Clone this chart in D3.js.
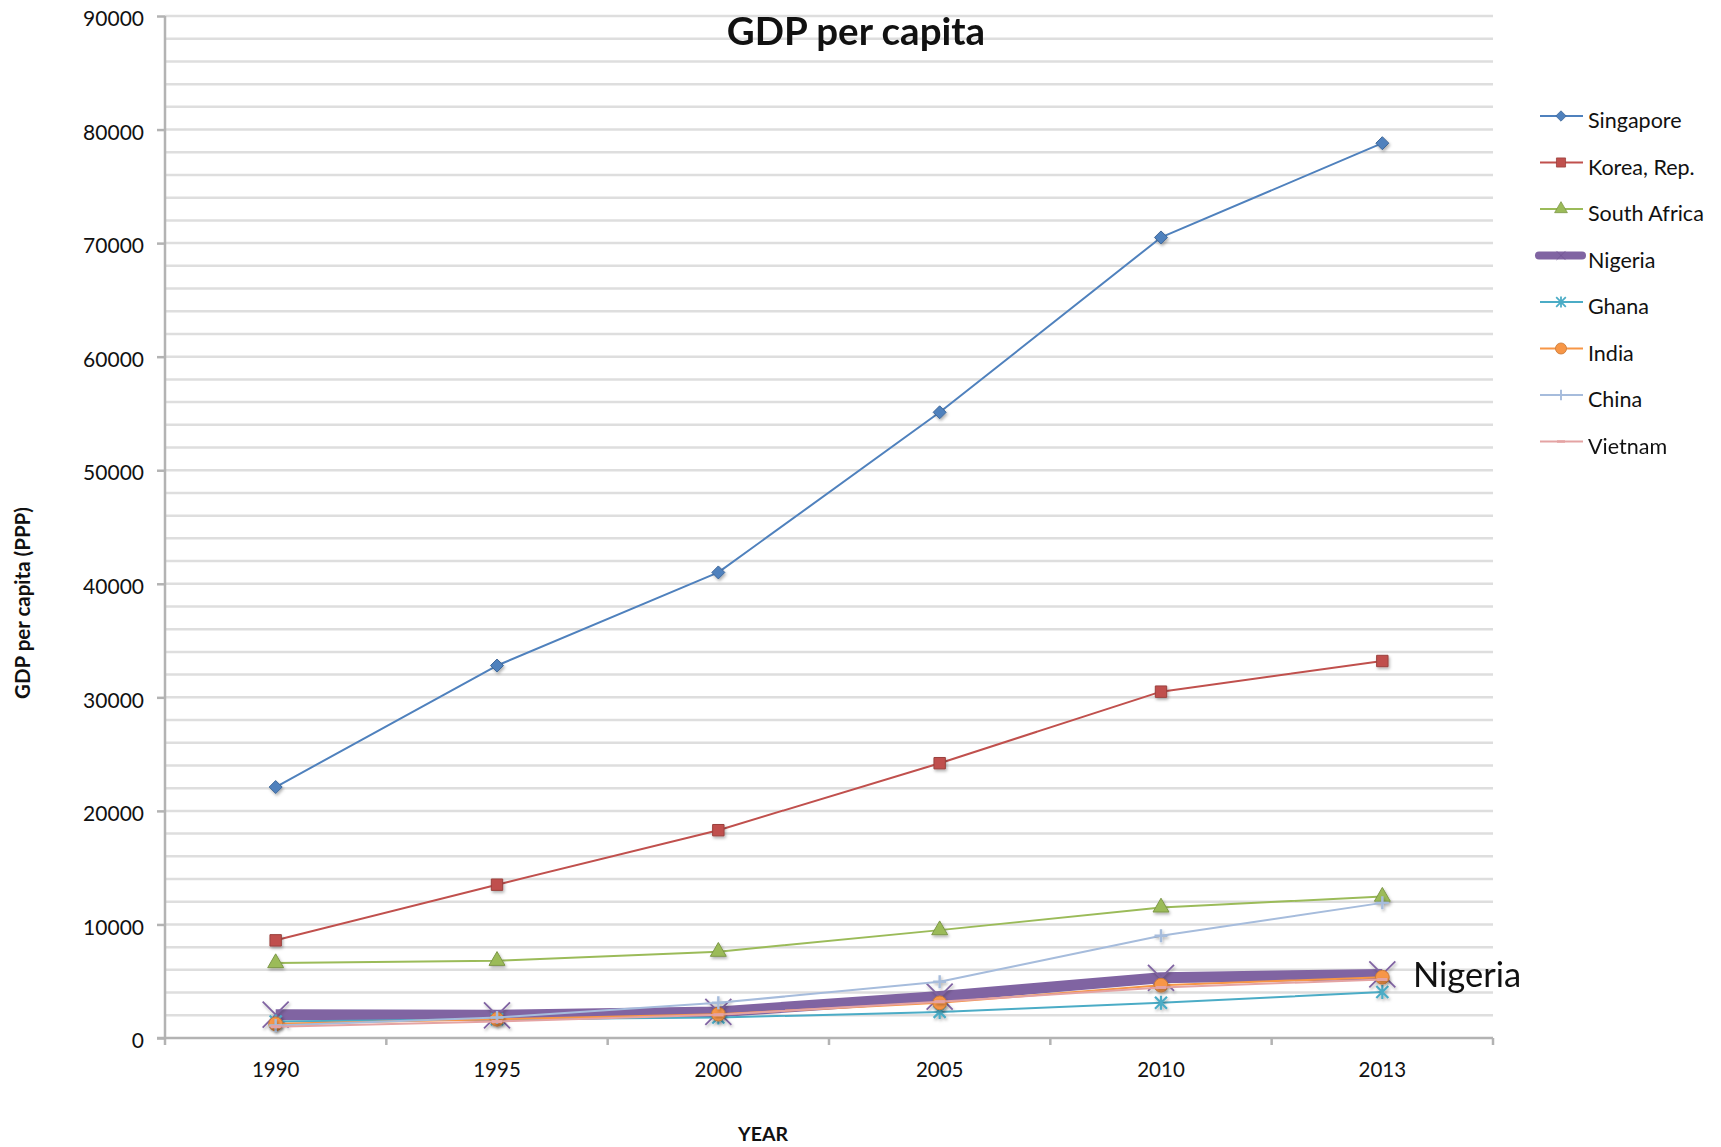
<!DOCTYPE html>
<html>
<head>
<meta charset="utf-8">
<script src="https://cdn.jsdelivr.net/npm/d3@7/dist/d3.min.js"></script>
<style>
  html, body { margin: 0; padding: 0; background: #fff; }
  svg { display: block; }
  text { font-family: Lato, "Open Sans", sans-serif; fill: #111; }
</style>
</head>
<body>
<svg id="chart" width="1721" height="1147"></svg>
<script>
// GDP per capita (PPP), selected countries
const years = ["1990", "1995", "2000", "2005", "2010", "2013"];
const singapore   = [22100, 32800, 41000, 55100, 70500, 78800];
const korea       = [8600, 13500, 18300, 24200, 30500, 33200];
const southAfrica = [6600, 6800, 7600, 9500, 11500, 12450];
const nigeria     = [2050, 2000, 2300, 3650, 5300, 5600];
const ghana       = [1450, 1650, 1800, 2300, 3100, 4050];
const india       = [1250, 1650, 2100, 3100, 4650, 5350];
const china       = [1100, 1800, 3100, 4950, 9000, 11900];
const vietnam     = [1000, 1450, 2050, 3200, 4450, 5150];
const seriesNames = ["Singapore", "Korea, Rep.", "South Africa", "Nigeria", "Ghana", "India", "China", "Vietnam"];
const yTicks = [0, 10000, 20000, 30000, 40000, 50000, 60000, 70000, 80000, 90000];

const seriesValues = [singapore, korea, southAfrica, nigeria, ghana, india, china, vietnam];

const styles = [
  { color: "#4F81BD", width: 2,  marker: "diamond" },
  { color: "#C0504D", width: 2,  marker: "square" },
  { color: "#9BBB59", width: 2,  marker: "triangle" },
  { color: "#8064A2", width: 11, marker: "x" },
  { color: "#4BACC6", width: 2,  marker: "star" },
  { color: "#F79646", width: 2,  marker: "circle" },
  { color: "#A6BCDC", width: 2,  marker: "plus" },
  { color: "#E4A3A3", width: 2,  marker: "dash" }
];

const svg = d3.select("#chart");

const plot = { left: 165, right: 1493, top: 16, bottom: 1038 };

const x = d3.scaleBand().domain(years).range([plot.left, plot.right]).padding(0);
const cx = d => x(d) + x.bandwidth() / 2;
const y = d3.scaleLinear().domain([0, 90000]).range([plot.bottom, plot.top]);

// soft marker shadow
const defs = svg.append("defs");
const f = defs.append("filter").attr("id", "shadow")
  .attr("x", "-50%").attr("y", "-50%").attr("width", "200%").attr("height", "200%");
f.append("feDropShadow").attr("dx", 1.2).attr("dy", 2).attr("stdDeviation", 1.4)
  .attr("flood-color", "#000").attr("flood-opacity", 0.3);

// horizontal gridlines every 2000
const gridVals = d3.range(2000, 90001, 2000);
svg.append("g").selectAll("line").data(gridVals).join("line")
  .attr("x1", plot.left).attr("x2", plot.right)
  .attr("y1", d => y(d)).attr("y2", d => y(d))
  .attr("stroke", "#dedede").attr("stroke-width", 2.5);

// y axis
const yAxis = d3.axisLeft(y).tickValues(yTicks).tickSize(8).tickPadding(13).tickFormat(d3.format("d"));
const gy = svg.append("g").attr("transform", `translate(${plot.left},0)`).call(yAxis);
gy.select(".domain").attr("stroke", "#b3b3b3").attr("stroke-width", 2.5).attr("d", `M0,${plot.top}V${plot.bottom}`);
gy.selectAll(".tick line").attr("stroke", "#b3b3b3").attr("stroke-width", 2.5);
gy.selectAll(".tick text").attr("y", 3).style("font-size", "21px").style("font-family", "Lato, sans-serif").attr("fill", "#111");

// x axis with ticks at category boundaries
const gx = svg.append("g").attr("transform", `translate(0,${plot.bottom})`);
gx.append("line").attr("x1", plot.left - 8).attr("x2", plot.right)
  .attr("stroke", "#b3b3b3").attr("stroke-width", 2.5);
const bounds = years.map(d => x(d)).concat([plot.right]);
gx.selectAll("line.tk").data(bounds).join("line").attr("class", "tk")
  .attr("x1", d => d).attr("x2", d => d).attr("y1", 0).attr("y2", 7)
  .attr("stroke", "#b3b3b3").attr("stroke-width", 2.5);
gx.selectAll("text").data(years).join("text")
  .attr("x", d => cx(d)).attr("y", 39).attr("text-anchor", "middle")
  .style("font-size", "20.5px").text(d => d);

// marker shapes
function markerPath(type) {
  switch (type) {
    case "diamond": return "M0,-6.5L6.5,0L0,6.5L-6.5,0Z";
    case "square": return d3.symbol(d3.symbolSquare, 130)();
    case "triangle": return d3.symbol(d3.symbolTriangle, 110)();
    case "circle": return d3.symbol(d3.symbolCircle, 150)();
    default: return null;
  }
}

function drawMarker(g, type, color, px, py, scale) {
  const s = scale || 1;
  const m = g.append("g").attr("transform", `translate(${px},${py}) scale(${s})`);
  if (type === "x") {
    const r = 13;
    m.append("path").attr("d", `M${-r},${-r}L${r},${r}M${-r},${r}L${r},${-r}`)
      .attr("stroke", color).attr("stroke-width", 1.8).attr("fill", "none");
  } else if (type === "star") {
    const r = 6;
    m.append("path").attr("d", `M${-r},${-r}L${r},${r}M${-r},${r}L${r},${-r}M0,${-r - 1}L0,${r + 1}`)
      .attr("stroke", color).attr("stroke-width", 2.2).attr("fill", "none");
  } else if (type === "plus") {
    const r = 6.5;
    m.append("path").attr("d", `M${-r},0L${r},0M0,${-r}L0,${r}`)
      .attr("stroke", color).attr("stroke-width", 2.4).attr("fill", "none");
  } else if (type === "dash") {
    m.append("path").attr("d", "M-5,0L5,0")
      .attr("stroke", color).attr("stroke-width", 3).attr("fill", "none");
  } else {
    m.append("path").attr("d", markerPath(type))
      .attr("fill", color).attr("stroke", d3.color(color).darker(0.6)).attr("stroke-width", 1);
  }
  return m;
}

// series
const line = d3.line().x((d, i) => cx(years[i])).y(d => y(d));
seriesValues.forEach((vals, si) => {
  const st = styles[si];
  const g = svg.append("g");
  g.append("path").datum(vals).attr("d", line)
    .attr("fill", "none").attr("stroke", st.color).attr("stroke-width", st.width)
    .attr("stroke-linejoin", "round");
  const mg = g.append("g").attr("filter", "url(#shadow)");
  vals.forEach((v, i) => drawMarker(mg, st.marker, st.color, cx(years[i]), y(v)));
});

// legend
const lg = svg.append("g");
seriesNames.forEach((name, i) => {
  const st = styles[i];
  const ly = 116 + i * 46.5;
  if (st.marker === "x") {
    lg.append("line").attr("x1", 1539).attr("x2", 1582).attr("y1", ly).attr("y2", ly)
      .attr("stroke", st.color).attr("stroke-width", 8).attr("stroke-linecap", "round");
    const mg = lg.append("g");
    drawMarker(mg, "x", "#6c5290", 1561, ly, 0.35);
  } else {
    lg.append("line").attr("x1", 1540).attr("x2", 1583).attr("y1", ly).attr("y2", ly)
      .attr("stroke", st.color).attr("stroke-width", 2);
    const mg = lg.append("g");
    drawMarker(mg, st.marker, st.color, 1561, ly, 0.8);
  }
  lg.append("text").attr("x", 1588).attr("y", ly + 12).style("font-size", "21.5px").text(name);
});

// series callout
svg.append("text").attr("x", 1413).attr("y", 987).style("font-size", "34.5px").text("Nigeria");

// titles
svg.append("text").attr("x", 856).attr("y", 45).attr("text-anchor", "middle")
  .style("font-size", "38.5px").style("font-weight", "bold").text("GDP per capita");
svg.append("text").attr("transform", "translate(30,603) rotate(-90)").attr("text-anchor", "middle")
  .style("font-size", "20.5px").style("font-weight", "bold").text("GDP per capita (PPP)");
svg.append("text").attr("x", 763).attr("y", 1141).attr("text-anchor", "middle")
  .style("font-size", "19.5px").style("font-weight", "bold").text("YEAR");
</script>
</body>
</html>
